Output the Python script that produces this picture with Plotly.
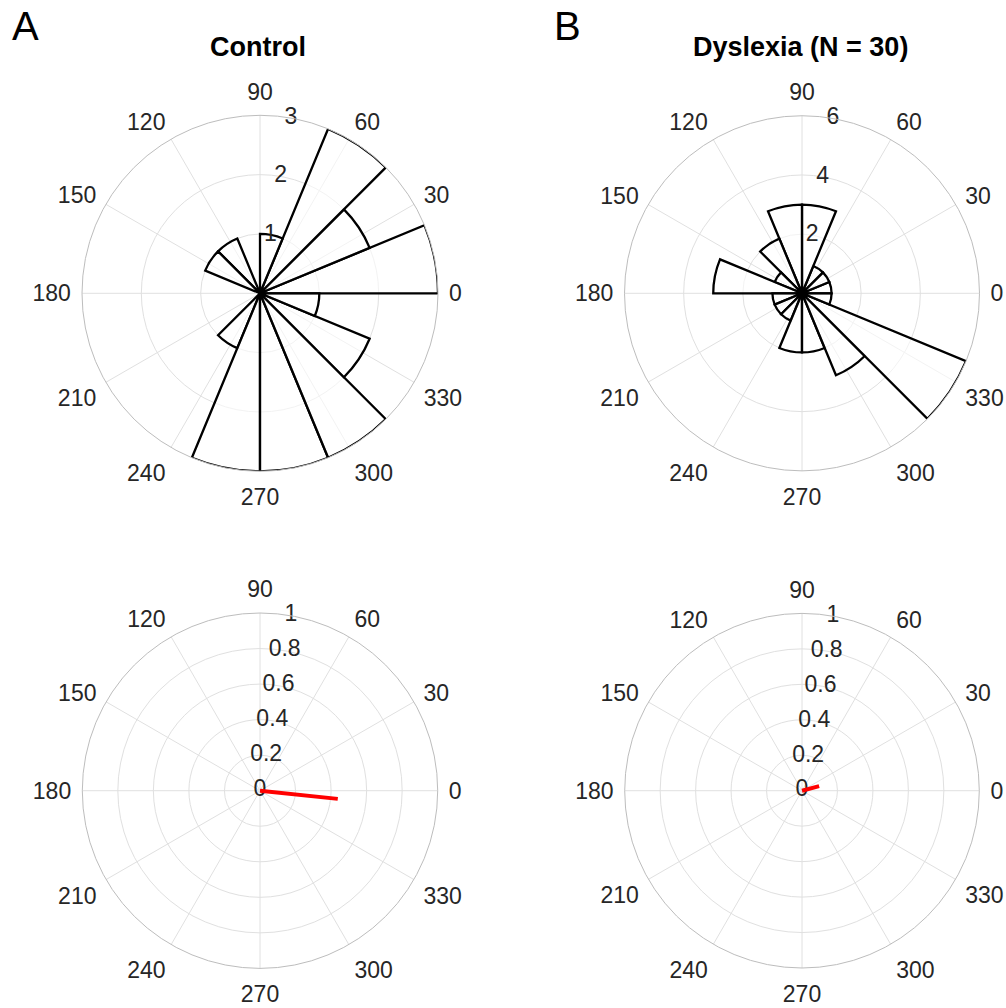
import numpy as np
import plotly.graph_objects as go

# ---------------- data ----------------
bin_width = 22.5
bin_centers = [11.25, 33.75, 56.25, 78.75, 101.25, 123.75, 146.25, 168.75,
               191.25, 213.75, 236.25, 258.75, 281.25, 303.75, 326.25, 348.75]
control_counts = [3, 2, 3, 1, 0, 1, 1, 0, 0, 0, 1, 3, 3, 3, 2, 1]
dyslexia_counts = [1, 1, 1, 3, 3, 2, 1, 3, 1, 1, 1, 2, 2, 3, 6, 1]

control_mean_r = 0.44
control_mean_theta = 354.0
dyslexia_mean_r = 0.10
dyslexia_mean_theta = 15.0

angular_ticks = [0, 30, 60, 90, 120, 150, 180, 210, 240, 270, 300, 330]
control_r_ticks = [1, 2, 3]
dyslexia_r_ticks = [2, 4, 6]
vector_r_ticks = [0, 0.2, 0.4, 0.6, 0.8, 1]
vector_r_labels = ["0", "0.2", "0.4", "0.6", "0.8", "1"]

titles = ["Control", "Dyslexia (N = 30)"]
panel_letters = ["A", "B"]

# ---------------- layout helpers ----------------
W, H = 1006, 1008
FONT = "Liberation Sans, Arial, Helvetica, sans-serif"
TXT = "#262626"
GRID = "#e0e0e0"
EDGE = "#bdbdbd"
LABEL_ANGLE = 80


def px(x):
    return x / W


def py(y):
    return 1 - y / H


def dom(cx, cy, R):
    return dict(x=[px(cx - R), px(cx + R)], y=[py(cy + R), py(cy - R)])


def polar_layout(cx, cy, R, rmax, rgrid):
    return dict(
        domain=dom(cx, cy, R),
        bgcolor="white",
        radialaxis=dict(range=[0, rmax], tickvals=rgrid, showticklabels=False,
                        ticks="", showline=False, gridcolor=GRID, gridwidth=1,
                        angle=LABEL_ANGLE),
        angularaxis=dict(direction="counterclockwise", rotation=0,
                         tickvals=angular_ticks,
                         ticktext=[str(a) for a in angular_ticks],
                         tickfont=dict(family=FONT, size=23, color=TXT),
                         ticks="outside", ticklen=6, tickcolor="rgba(0,0,0,0)",
                         showline=True, linecolor=EDGE, linewidth=1,
                         gridcolor=GRID, gridwidth=1),
    )


fig = go.Figure()

# Top histograms
for counts, sub in [(control_counts, "polar"), (dyslexia_counts, "polar2")]:
    fig.add_trace(go.Barpolar(
        r=counts, theta=bin_centers, width=[bin_width] * len(bin_centers),
        marker=dict(color="rgba(255,255,255,0.6)",
                    line=dict(color="black", width=2.3)),
        subplot=sub, showlegend=False, hoverinfo="skip"))

# Radial tick labels (text along 80 degrees)
for ticks, sub in [(control_r_ticks, "polar"), (dyslexia_r_ticks, "polar2")]:
    fig.add_trace(go.Scatterpolar(
        r=ticks, theta=[LABEL_ANGLE] * len(ticks), mode="text",
        text=[str(t) for t in ticks],
        textfont=dict(family=FONT, size=23, color=TXT),
        textposition="middle center", cliponaxis=False,
        subplot=sub, showlegend=False, hoverinfo="skip"))

for sub in ["polar3", "polar4"]:
    fig.add_trace(go.Scatterpolar(
        r=vector_r_ticks, theta=[LABEL_ANGLE] * len(vector_r_ticks), mode="text",
        text=vector_r_labels,
        textfont=dict(family=FONT, size=23, color=TXT),
        textposition="middle center", cliponaxis=False,
        subplot=sub, showlegend=False, hoverinfo="skip"))

# Mean resultant vectors
for rr, th, sub in [(control_mean_r, control_mean_theta, "polar3"),
                    (dyslexia_mean_r, dyslexia_mean_theta, "polar4")]:
    fig.add_trace(go.Scatterpolar(
        r=[0, rr], theta=[th, th], mode="lines",
        line=dict(color="#ff0000", width=4),
        subplot=sub, showlegend=False, hoverinfo="skip"))

fig.update_layout(
    width=W, height=H, autosize=False,
    margin=dict(l=0, r=0, t=0, b=0),
    paper_bgcolor="white", plot_bgcolor="white",
    font=dict(family=FONT, color=TXT),
    polar=polar_layout(260, 293.3, 178, 3, control_r_ticks),
    polar2=polar_layout(802, 293.3, 177.5, 6, dyslexia_r_ticks),
    polar3=polar_layout(260, 790.7, 177.7, 1, vector_r_ticks[1:]),
    polar4=polar_layout(802, 790.7, 177.3, 1, vector_r_ticks[1:]),
)

annotations = []
for t, cx in zip(titles, [258, 800]):
    annotations.append(dict(text="<b>%s</b>" % t, x=px(cx), y=py(47.5),
                            xref="paper", yref="paper", showarrow=False,
                            xanchor="center", yanchor="middle",
                            font=dict(family=FONT, size=27, color="black")))
for lbl, cx in zip(panel_letters, [25.5, 567]):
    annotations.append(dict(text=lbl, x=px(cx), y=py(26),
                            xref="paper", yref="paper", showarrow=False,
                            xanchor="center", yanchor="middle",
                            font=dict(family=FONT, size=40, color="black")))
fig.update_layout(annotations=annotations)

fig.write_html(
    "out.html",
    config={"displayModeBar": False},
    post_script="document.body.style.margin='0';"
                "document.body.style.overflow='hidden';",
)
